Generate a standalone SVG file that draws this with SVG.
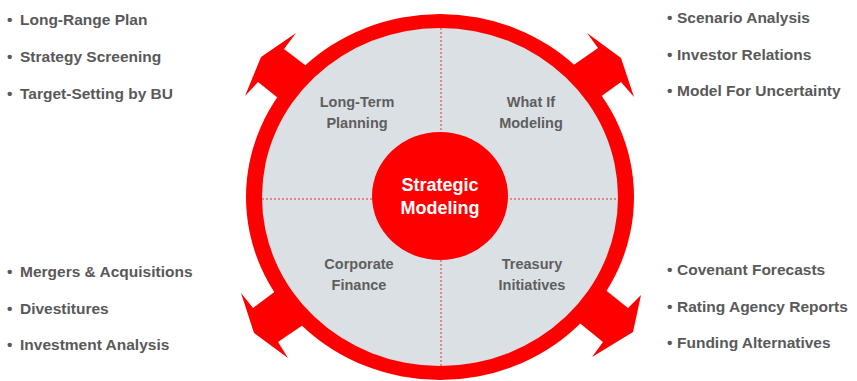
<svg xmlns="http://www.w3.org/2000/svg" width="857" height="381" viewBox="0 0 857 381">
<style>
.red{fill:#ff0000}
.grey{fill:#dbe0e4}
.div{stroke:#e86a6a;stroke-width:1.5;stroke-dasharray:2 2;fill:none}
.q{font-family:"Liberation Sans",Arial,sans-serif;font-weight:bold;font-size:14.5px;fill:#5e5e5e;text-anchor:middle}
.c{font-family:"Liberation Sans",Arial,sans-serif;font-weight:bold;font-size:18px;fill:#ffffff;text-anchor:middle}
.l{font-family:"Liberation Sans",Arial,sans-serif;font-weight:bold;font-size:15.5px;fill:#595959}
</style>
<rect width="857" height="381" fill="#ffffff"/>
<g id="ring">
<g id="connectors">
<polygon class="red" points="296,33 284,49 305,65 315,73 287,106 278,98 258,82 245,96 261,57"/>
<polygon class="red" points="587,33 621,58 634,97 621,82 603,95 593,102 565,71 575,64 598,48"/>
<polygon class="red" points="241,293 253,308 273,293 283,286 310,320 300,327 278,342 288,358 254,333"/>
<polygon class="red" points="641,295 633,332 592,357 603,342 582,325 572,317 598,284 608,292 628,308"/>
</g>
<ellipse class="red" cx="440" cy="197" rx="194" ry="183"/>
<ellipse class="grey" cx="440" cy="197" rx="178" ry="169"/>
<line class="div" x1="441" y1="28" x2="441" y2="366"/>
<line class="div" x1="262" y1="199" x2="617" y2="199"/>
</g>
<g id="q-long-term">
<text class="q" x="357" y="107">Long-Term</text>
<text class="q" x="357" y="128">Planning</text>
</g>
<g id="q-what-if">
<text class="q" x="531" y="107">What If</text>
<text class="q" x="531" y="128">Modeling</text>
</g>
<g id="q-corporate">
<text class="q" x="359" y="269">Corporate</text>
<text class="q" x="359" y="290">Finance</text>
</g>
<g id="q-treasury">
<text class="q" x="532" y="269">Treasury</text>
<text class="q" x="532" y="290">Initiatives</text>
</g>
<g id="center">
<ellipse class="red" cx="440" cy="196" rx="68" ry="64"/>
<text class="c" x="440" y="191">Strategic</text>
<text class="c" x="440" y="214">Modeling</text>
</g>
<g id="list-top-left">
<text class="l" x="7" y="25">•<tspan x="20">Long-Range Plan</tspan></text>
<text class="l" x="7" y="62">•<tspan x="20">Strategy Screening</tspan></text>
<text class="l" x="7" y="99">•<tspan x="20">Target-Setting by BU</tspan></text>
</g>
<g id="list-top-right">
<text class="l" x="667" y="23">•<tspan x="677">Scenario Analysis</tspan></text>
<text class="l" x="667" y="60">•<tspan x="677">Investor Relations</tspan></text>
<text class="l" x="667" y="96">•<tspan x="677">Model For Uncertainty</tspan></text>
</g>
<g id="list-bottom-left">
<text class="l" x="7" y="277">•<tspan x="20">Mergers &amp; Acquisitions</tspan></text>
<text class="l" x="7" y="314">•<tspan x="20">Divestitures</tspan></text>
<text class="l" x="7" y="350">•<tspan x="20">Investment Analysis</tspan></text>
</g>
<g id="list-bottom-right">
<text class="l" x="667" y="275">•<tspan x="677">Covenant Forecasts</tspan></text>
<text class="l" x="667" y="312">•<tspan x="677">Rating Agency Reports</tspan></text>
<text class="l" x="667" y="348">•<tspan x="677">Funding Alternatives</tspan></text>
</g>
</svg>
